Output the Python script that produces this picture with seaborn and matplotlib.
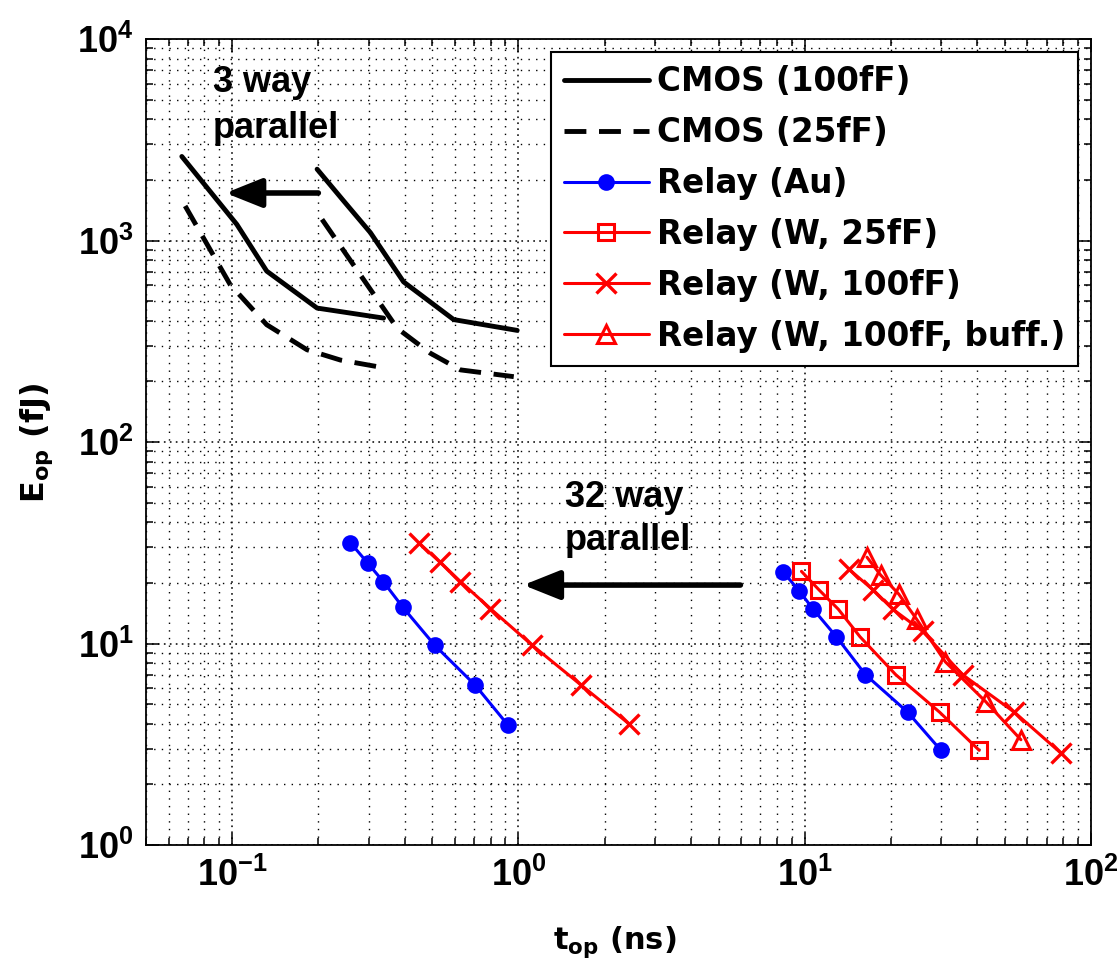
import numpy as np
import pandas as pd
import matplotlib
matplotlib.use("Agg")
import matplotlib.pyplot as plt
from matplotlib.lines import Line2D
from matplotlib.ticker import LogLocator, FuncFormatter, NullFormatter
import seaborn as sns

# ---------------- data ----------------
# CMOS, 100 fF load (solid): single and 3-way parallel versions
cmos100_t = [0.198, 0.245, 0.304, 0.397, 0.594, 0.99]
cmos100_E = [2259, 1573, 1094, 623, 405, 358]
cmos100_3way_t = [0.0667, 0.0826, 0.1038, 0.132, 0.198, 0.338]
cmos100_3way_E = [2612, 1795, 1202, 705, 462, 412]
# CMOS, 25 fF load (dashed)
cmos25_t = [0.206, 0.377, 0.492, 0.627, 0.963]
cmos25_E = [1273, 367, 276, 228, 211]
cmos25_3way_t = [0.0685, 0.0984, 0.132, 0.1825, 0.239, 0.336]
cmos25_3way_E = [1484, 604, 382, 287, 255, 234]
# Relay (Au)
au_t = [8.42, 9.55, 10.7, 12.9, 16.3, 22.9, 29.9]
au_E = [22.6, 18.3, 14.8, 10.8, 7.0, 4.56, 2.95]
au_32way_t = [0.259, 0.298, 0.337, 0.395, 0.510, 0.707, 0.920]
au_32way_E = [31.6, 25.0, 20.3, 15.1, 9.8, 6.2, 3.93]
# Relay (W, 25fF)
w25_t = [9.74, 11.2, 13.1, 15.6, 20.8, 29.6, 40.7]
w25_E = [22.8, 18.5, 14.8, 10.8, 7.0, 4.56, 2.95]
# Relay (W, 100fF)
w100_t = [14.3, 17.3, 20.3, 25.8, 35.6, 54.0, 78.5]
w100_E = [23.3, 18.5, 14.8, 11.5, 7.0, 4.56, 2.86]
w100_32way_t = [0.448, 0.533, 0.627, 0.798, 1.117, 1.66, 2.43]
w100_32way_E = [31.6, 25.3, 20.3, 14.9, 9.8, 6.2, 4.0]
# Relay (W, 100fF, buff.)
wbuf_t = [16.5, 18.4, 21.3, 24.6, 31.0, 42.9, 56.9]
wbuf_E = [26.8, 21.9, 17.6, 13.2, 8.1, 5.14, 3.33]

legend_labels = ["CMOS (100fF)", "CMOS (25fF)", "Relay (Au)", "Relay (W, 25fF)",
                 "Relay (W, 100fF)", "Relay (W, 100fF, buff.)"]
x_label = "t_{op}"
y_label = "E_{op}"

# ---------------- style ----------------
sns.set_style("ticks")
plt.rcParams['font.family'] = ['Liberation Sans', 'DejaVu Sans']
plt.rcParams['font.weight'] = 'bold'
for k in ('text.color', 'axes.labelcolor', 'xtick.color', 'ytick.color',
          'axes.edgecolor'):
    plt.rcParams[k] = 'black'

W, H = 1120, 965
fig = plt.figure(figsize=(W / 100, H / 100), dpi=100)
L, R, T, B = 146, 1091, 39, 845
ax = fig.add_axes([L / W, 1 - B / H, (R - L) / W, (B - T) / H])
ax.set_xscale('log')
ax.set_yscale('log')
ax.set_xlim(0.05, 100)
ax.set_ylim(1, 1e4)

RED = '#ff0000'
BLUE = '#0000ff'


def draw(t, e, **kw):
    df = pd.DataFrame({'t': t, 'E': e})
    sns.lineplot(data=df, x='t', y='E', sort=False, estimator=None,
                 ax=ax, legend=False, **kw)


solid = dict(color='k', lw=3.5, linestyle='-')
dashed = dict(color='k', lw=3.5, linestyle=(0, (4.5, 2.6)))
au_kw = dict(color=BLUE, lw=2.2, marker='o', markersize=10.5,
             markerfacecolor=BLUE, markeredgecolor=BLUE, markeredgewidth=1.5)
w25_kw = dict(color=RED, lw=2.2, marker='s', markersize=12,
              markerfacecolor='none', markeredgecolor=RED, markeredgewidth=2.2)
w100_kw = dict(color=RED, lw=2.2, marker='x', markersize=14,
               markeredgecolor=RED, markeredgewidth=2.4)
wbuf_kw = dict(color=RED, lw=2.2, marker='^', markersize=13,
               markerfacecolor='none', markeredgecolor=RED, markeredgewidth=2.2)

draw(cmos100_t, cmos100_E, **solid)
draw(cmos100_3way_t, cmos100_3way_E, **solid)
draw(cmos25_t, cmos25_E, **dashed)
draw(cmos25_3way_t, cmos25_3way_E, **dashed)
draw(au_t, au_E, **au_kw)
draw(au_32way_t, au_32way_E, **au_kw)
draw(w25_t, w25_E, **w25_kw)
draw(w100_t, w100_E, **w100_kw)
draw(w100_32way_t, w100_32way_E, **w100_kw)
draw(wbuf_t, wbuf_E, **wbuf_kw)

# ---------------- axes decoration ----------------
fmt = FuncFormatter(lambda v, p: r'$\mathdefault{10^{%d}}$' % int(round(np.log10(v))))
for axis in (ax.xaxis, ax.yaxis):
    axis.set_major_locator(LogLocator(base=10, numticks=12))
    axis.set_minor_locator(LogLocator(base=10, subs=np.arange(2, 10), numticks=12))
    axis.set_major_formatter(fmt)
    axis.set_minor_formatter(NullFormatter())

ax.tick_params(which='both', direction='in', top=True, right=True, width=1.1,
               color='k', labelcolor='k')
ax.tick_params(which='major', length=9, pad=9)
ax.tick_params(which='minor', length=5)
for lab in ax.get_xticklabels() + ax.get_yticklabels():
    lab.set_fontfamily('Liberation Sans')
    lab.set_fontweight('bold')
    lab.set_fontsize(26)

ax.grid(True, which='major', color='k', lw=1.1, linestyle=(0, (1.1, 2.8)))
ax.grid(True, which='minor', color='k', lw=1.0, linestyle=(0, (1, 4.5)))
ax.set_axisbelow(True)
for s in ax.spines.values():
    s.set_visible(True)
    s.set_linewidth(1.3)
    s.set_color('k')

ax.set_xlabel(r'$\mathdefault{%s}$ (ns)' % x_label, fontsize=22, fontweight='bold',
              family='DejaVu Sans', color='k')
ax.set_ylabel(r'$\mathdefault{%s}$ (fJ)' % y_label, fontsize=23, fontweight='bold',
              family='DejaVu Sans', color='k')
ax.xaxis.set_label_coords((615 - L) / (R - L), -(924 - B) / (B - T))
ax.yaxis.set_label_coords(-(L - 55) / (R - L), (B - 443) / (B - T))

# ---------------- annotations ----------------
tkw = dict(fontsize=26, fontweight='bold', family='Liberation Sans',
           ha='left', va='baseline', color='k')
ax.text(0.0858, 5458, '3 way', **tkw)
ax.text(0.0858, 3228, 'parallel', **tkw)
ax.text(1.453, 47.6, '32 way', **tkw)
ax.text(1.453, 29.1, 'parallel', **tkw)

akw = dict(arrowstyle='-|>,head_length=0.55,head_width=0.22', lw=4, color='k',
           shrinkA=0, shrinkB=0, mutation_scale=40)
ax.annotate('', xy=(0.0948, 1721), xytext=(0.200, 1721), arrowprops=akw)
ax.annotate('', xy=(1.04, 19.5), xytext=(5.96, 19.5), arrowprops=akw)

# ---------------- legend ----------------
handles = [
    Line2D([], [], **solid),
    Line2D([], [], **dashed),
    Line2D([], [], **au_kw),
    Line2D([], [], **w25_kw),
    Line2D([], [], **w100_kw),
    Line2D([], [], **wbuf_kw),
]
leg = ax.legend(handles, legend_labels, loc='upper right',
                bbox_to_anchor=(1078 / W, 1 - 52 / H), bbox_transform=fig.transFigure,
                frameon=True, fancybox=False, edgecolor='k',
                framealpha=1, facecolor='white',
                prop=dict(family='DejaVu Sans', weight='bold', size=23.5),
                handlelength=2.6, handletextpad=0.25, labelspacing=0.55,
                borderpad=0.4, borderaxespad=0)
leg.get_frame().set_linewidth(1.5)
for txt in leg.get_texts():
    txt.set_color('k')

fig.savefig('out.png', dpi=100, facecolor='white')
